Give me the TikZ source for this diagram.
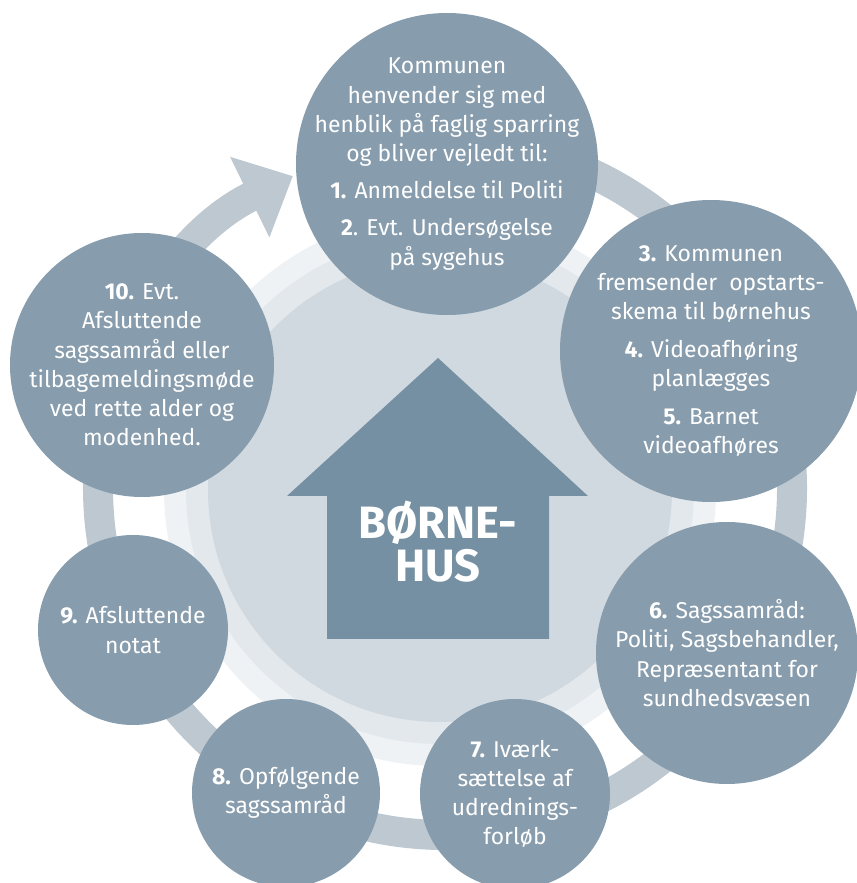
\documentclass[tikz,border=0pt]{standalone}
\usepackage{fontspec}
\setmainfont{Fira Sans}
\usetikzlibrary{arrows.meta}
\definecolor{stepblue}{HTML}{879CAC}
\definecolor{houseblue}{HTML}{7590A2}
\definecolor{ringblue}{HTML}{BDC8D1}
\definecolor{discgrey}{HTML}{D0D9DF}
\definecolor{halogrey}{HTML}{E3E8EC}
\definecolor{halowhite}{HTML}{EEF2F4}

\begin{document}
\begin{tikzpicture}[x=0.75pt, y=0.75pt, line join=round,
  stepcircle/.style={circle, fill=stepblue, inner sep=0pt},
  steptext/.style={text=white, align=center, font=\fontsize{17.2}{21.9}\selectfont}]
\useasboundingbox (0,0) rectangle (857,883);
% baggrund
\foreach \r/\c in {276/halowhite, 254/halogrey, 232/discgrey}
  \fill[\c] (440,393) circle[radius=\r];
% ring med pil
\draw[ringblue, line width=22.5pt, -{Triangle[length=36pt, width=65pt]}]
  (445,395) ++(95:347) arc[start angle=95, end angle=-244, radius=347];
% hus
\fill[houseblue] (327,244) -- (327,387) -- (287,387) -- (438,525) -- (588,387)
  -- (549,387) -- (549,244) -- cycle;
\node[text=white, font=\fontsize{34}{32}\selectfont\bfseries, align=center] (hus) at (438,341.5) {BØRNE-\\HUS};
% trin
\foreach \n/\x/\y/\d in {c1/447/719/226.5, c2/711/532/226.5, c3/727/230/196.5,
  c4/515/89/142.5, c5/286/90/141, c6/133/253/142.5, c7/142/518/198}
  \node[stepcircle, minimum size=\d pt] (\n) at (\x,\y) {};
\node[steptext] (t1) at (c1) {Kommunen\\henvender sig med\\henblik på faglig sparring\\og bliver vejledt til:\\[6pt]\textbf{1.} Anmeldelse til Politi\\[6pt]\textbf{2}. Evt. Undersøgelse\\på sygehus};
\node[steptext] (t2) at (c2) {\textbf{3.} Kommunen\\fremsender\ \ opstarts-\\skema til børnehus\\[6.5pt]\textbf{4.} Videoafhøring\\planlægges\\[6.5pt]\textbf{5.} Barnet\\videoafhøres};
\node[steptext] (t3) at (c3) {\textbf{6.} Sagssamråd:\\Politi, Sagsbehandler,\\Repræsentant for\\sundhedsvæsen};
\node[steptext] (t4) at (c4) {\textbf{7.} Iværk-\\sættelse af\\udrednings-\\forløb};
\node[steptext] (t5) at (c5) {\textbf{8.} Opfølgende\\sagssamråd};
\node[steptext] (t6) at (c6) {\textbf{9.} Afsluttende\\notat};
\node[steptext] (t7) at (c7) {\textbf{10.} Evt.\\Afsluttende\\sagssamråd eller\\tilbagemeldingsmøde\\ved rette alder og\\modenhed.};
\end{tikzpicture}
\end{document}
